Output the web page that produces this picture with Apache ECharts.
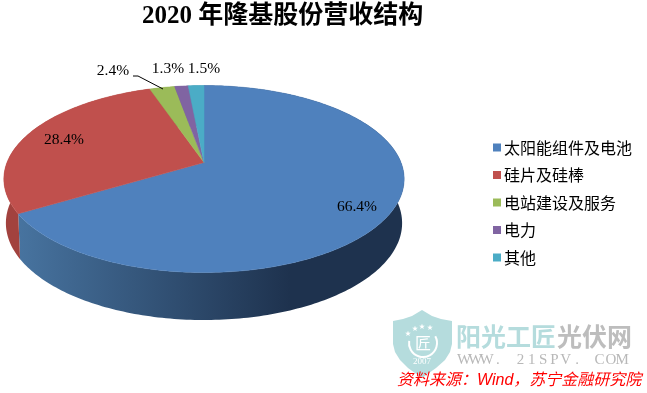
<!DOCTYPE html>
<html>
<head>
<meta charset="utf-8">
<style>
  html, body { margin: 0; padding: 0; background: #fff; }
  #chart { width: 647px; height: 393px; }
</style>
<script src="https://cdn.jsdelivr.net/npm/echarts@6/dist/echarts.min.js"></script>
</head>
<body>
<div id="chart"></div>
<script>
var categories = ["太阳能组件及电池", "硅片及硅棒", "电站建设及服务", "电力", "其他"];
var shares = [66.4, 28.4, 2.4, 1.3, 1.5];
var colors = ["#4f81bd", "#c0504d", "#9bbb59", "#8064a2", "#4bacc6"];

// where the percent labels sit, same order as categories
var labelAt = [[357, 207], [64, 140], [113, 71], [168, 69], [204, 69]];

var serif = '"Liberation Serif", "Noto Sans CJK SC"';
var cjk = '"Noto Sans CJK SC"';

// the pie is a tilted disc, so a point on the unit circle goes through a perspective map
var K = 0.1765;
var topFace = {cx: 204, cy: 162.5, a: 197, b: 90.6};
var bottomFace = {cx: 204, cy: 206, a: 195, b: 93.9};

function project(face, deg) {
  var rad = deg * Math.PI / 180;
  var u = Math.sin(rad);
  var v = Math.cos(rad);
  var d = 1 + K * v;
  return [face.cx + face.a * u / d, face.cy - face.b * v / d];
}

function arc(face, from, to) {
  var pts = [];
  var steps = Math.max(2, Math.ceil(to - from));
  for (var i = 0; i <= steps; i++) {
    pts.push(project(face, from + (to - from) * i / steps));
  }
  return pts;
}

var wallFill = [
  new echarts.graphic.LinearGradient(20, 0, 290, 0, [
    {offset: 0, color: "#47739f"},
    {offset: 1, color: "#1e324e"}
  ], true),
  "#a2423e", "#7d9546", "#664f82", "#3a8a9e"
];

function sliceRender(index) {
  return function (params, api) {
    var from = api.value(0) * 3.6;
    var to = (api.value(0) + api.value(1)) * 3.6;
    var topArc = arc(topFace, from, to);
    var wall = topArc.concat(arc(bottomFace, from, to).reverse());
    return {
      type: "group",
      children: [
        {
          type: "polygon",
          z2: 1,
          shape: {points: wall},
          style: {fill: wallFill[index]}
        },
        {
          type: "polygon",
          z2: 2,
          shape: {points: [[topFace.cx, topFace.cy]].concat(topArc)},
          style: {fill: colors[index], stroke: colors[index], lineWidth: 0.5}
        },
        {
          type: "text",
          z2: 4,
          x: labelAt[index][0],
          y: labelAt[index][1],
          style: {
            text: api.value(1).toFixed(1) + "%",
            fill: "#000",
            font: "15.5px " + serif,
            align: "center",
            verticalAlign: "middle"
          }
        }
      ]
    };
  };
}

var series = [];
var sum = 0;
for (var i = 0; i < categories.length; i++) {
  series.push({
    type: "custom",
    name: categories[i],
    coordinateSystem: "none",
    renderItem: sliceRender(i),
    itemStyle: {color: colors[i]},
    silent: true,
    data: [[sum, shares[i]]]
  });
  sum += shares[i];
}

// watermark, bottom right
var watermark = [
  {
    type: "polygon",
    shape: {points: [[422, 310], [412, 316], [403, 319], [393, 321], [393, 344], [395, 352], [400, 360], [408, 368], [422, 378],
      [436, 368], [445, 360], [450, 352], [452, 344], [452, 321], [441, 319], [432, 316]]},
    style: {fill: "#b5dcdd"}
  },
  {
    type: "arc",
    shape: {cx: 423, cy: 343, r: 14, startAngle: -0.5, endAngle: 3.3},
    style: {fill: "none", stroke: "#fff", lineWidth: 2}
  },
  {type: "text", x: 423, y: 343, style: {text: "匠", fill: "#fff", font: "16px " + cjk, align: "center", verticalAlign: "middle"}},
  {type: "text", x: 422, y: 362, style: {text: "2007", fill: "#fff", font: "9px " + serif, align: "center", verticalAlign: "middle"}},
  {type: "text", x: 456, y: 336, style: {text: "阳光工匠", fill: "#b5dcdd", font: "bold 25px " + cjk, verticalAlign: "middle"}},
  {type: "text", x: 557, y: 336, style: {text: "光伏网", fill: "#bdbdbd", font: "bold 25px " + cjk, verticalAlign: "middle"}}
];
[[408, 333], [415, 328], [422, 326], [430, 327]].forEach(function (p) {
  watermark.push({type: "text", x: p[0], y: p[1], style: {text: "★", fill: "#fff", font: "6px " + cjk, align: "center", verticalAlign: "middle"}});
});
"WWW. 21SPV. COM".split("").forEach(function (ch, i) {
  watermark.push({
    type: "text",
    x: 464 + i * 11.3,
    y: 360,
    style: {text: ch, fill: "#b8b8b8", font: "15px " + serif, align: "center", verticalAlign: "middle"}
  });
});

// leader line of the 2.4% label and the source note
var extras = [
  {
    type: "polyline",
    z: 5,
    shape: {points: [[133, 76], [138, 76], [163, 89]]},
    style: {stroke: "#000", lineWidth: 1, fill: "none"}
  },
  {
    type: "text",
    z: 5,
    x: 397,
    y: 381,
    style: {
      text: "资料来源：Wind，苏宁金融研究院",
      fill: "#f00",
      font: 'italic 16px "Liberation Sans", ' + cjk,
      verticalAlign: "middle"
    }
  }
];

var chart = echarts.init(document.getElementById("chart"), null, {renderer: "canvas"});
chart.setOption({
  animation: false,
  backgroundColor: "#fff",
  title: {
    text: "2020 年隆基股份营收结构",
    left: 142,
    top: 4,
    padding: 0,
    textStyle: {fontFamily: serif, fontSize: 25, fontWeight: "bold", color: "#000"}
  },
  legend: {
    orient: "vertical",
    left: 493,
    top: 138,
    padding: 0,
    icon: "rect",
    itemWidth: 8,
    itemHeight: 8,
    itemGap: 8.5,
    data: categories,
    textStyle: {fontFamily: cjk, fontSize: 16, color: "#000", padding: [0, 0, 0, -2], height: 19, lineHeight: 19}
  },
  graphic: watermark.concat(extras),
  series: series
});
</script>
</body>
</html>
